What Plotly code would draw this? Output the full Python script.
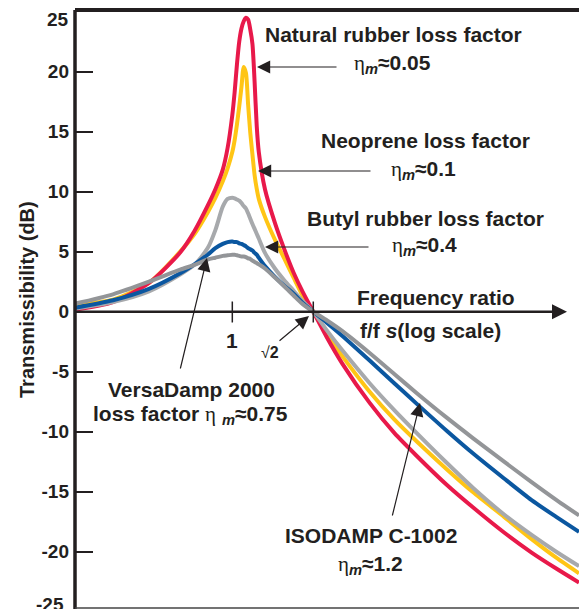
import plotly.graph_objects as go

# ---------------- data ----------------
freq_ratio = [0.51, 0.6, 0.7, 0.8, 0.85, 0.9, 0.93, 0.96, 0.98, 1.0,
              1.01, 1.02, 1.03, 1.04, 1.05, 1.06, 1.07, 1.08, 1.09, 1.10,
              1.11, 1.12, 1.15, 1.2, 1.25, 1.3, 1.35, 1.414,
              1.5, 1.6, 1.8, 2.0, 2.2, 2.5, 2.8, 3.2, 3.6, 4.0, 4.41]

natural_rubber = [0.17, 0.8, 2.4, 4.93, 6.7, 8.83, 10.2, 11.84, 13.64, 16.4,
                  18.3, 20.6, 22.5, 23.6, 24.2, 24.5, 24.35, 23.5, 22.3, 19.2,
                  15.5, 13.3, 10.2, 7.4, 5.17, 3.25, 1.7, 0.0,
                  -2.17, -4.3, -7.6, -10.1, -12.0, -14.4, -16.3, -18.4, -20.07, -21.4, -22.57]

neoprene = [0.6, 1.0, 2.4, 5.0, 6.45, 8.27, 9.48, 10.87, 11.95, 13.3,
            14.3, 15.6, 17.1, 18.75, 20.4, 19.9, 17.25, 14.9, 13.1, 11.4,
            10.25, 9.4, 7.9, 6.0, 4.4, 2.83, 1.37, 0.0,
            -1.87, -3.68, -6.67, -8.98, -10.8, -13.1, -15.03, -17.1, -18.95, -20.5, -21.8]

butyl_rubber = [0.25, 0.8, 1.7, 3.1, 3.9, 5.3, 6.8, 8.75, 9.4, 9.5,
                9.45, 9.35, 9.25, 9.05, 8.8, 8.6, 8.2, 7.75, 7.3, 6.9,
                6.5, 6.1, 4.9, 3.6, 2.6, 1.75, 0.9, 0.0,
                -1.58, -3.2, -5.96, -8.2, -10.1, -12.57, -14.67, -16.9, -18.6, -20.0, -21.2]

versadamp = [0.33, 0.95, 1.9, 3.2, 3.95, 4.75, 5.3, 5.65, 5.8, 5.85,
             5.8, 5.8, 5.7, 5.65, 5.55, 5.45, 5.3, 5.2, 5.1, 4.9,
             4.75, 4.5, 3.8, 2.9, 2.15, 1.5, 0.75, 0.0,
             -0.93, -2.0, -4.07, -5.96, -7.66, -9.9, -11.8, -13.9, -15.7, -17.1, -18.35]

isodamp = [0.67, 1.45, 2.5, 3.5, 3.9, 4.35, 4.5, 4.65, 4.7, 4.75,
           4.75, 4.7, 4.65, 4.6, 4.6, 4.55, 4.45, 4.4, 4.25, 4.15,
           4.05, 3.95, 3.6, 2.85, 2.1, 1.35, 0.65, 0.0,
           -0.73, -1.6, -3.44, -5.19, -6.77, -8.81, -10.53, -12.5, -14.2, -15.68, -16.98]

y_tick_values = [-20, -15, -10, -5, 0, 5, 10, 15, 20]
y_tick_labels = ["-20", "-15", "-10", "-5", "0", "5", "10", "15", "20"]
x_marks = [1.0, 1.4142]

# ---------------- styling ----------------
W, H = 579, 609
ML, MR, MT, MB = 75, 0, 10, 1
PW, PH = W - ML - MR, H - MT - MB
TXT = "#231F20"
FONT = "Liberation Sans, Arial, sans-serif"

def px(x):
    return (x - ML) / PW

def py(y):
    return (H - MB - y) / PH

fig = go.Figure()

series = [
    (neoprene, "#FFC515"),
    (natural_rubber, "#E8194A"),
    (butyl_rubber, "#A7A9AC"),
    (versadamp, "#0B57A0"),
    (isodamp, "#939598"),
]
for ys, col in series:
    fig.add_trace(go.Scatter(x=freq_ratio, y=ys, mode="lines",
                             line=dict(color=col, width=4, shape="spline", smoothing=0.7),
                             hoverinfo="skip", showlegend=False))

shapes = [
    dict(type="line", xref="paper", yref="paper", x0=0, x1=0, y0=-0.01, y1=1.0,
         line=dict(color=TXT, width=3.5)),
    dict(type="line", xref="paper", yref="paper", x0=0, x1=1.0, y0=1.0, y1=1.0,
         line=dict(color=TXT, width=4)),
    dict(type="line", xref="paper", yref="paper", x0=0, x1=1.0, y0=0.0, y1=0.0,
         line=dict(color="#444444", width=1.5)),
]
for xm in x_marks:
    shapes.append(dict(type="line", xref="x", yref="y", x0=xm, x1=xm, y0=0.85, y1=-0.9,
                       line=dict(color=TXT, width=1.5)))

ann = []

def label(text, x, y, size=21, xanchor="center", angle=0):
    ann.append(dict(text=text, x=px(x), y=py(y), xref="paper", yref="paper",
                    showarrow=False, xanchor=xanchor, yanchor="middle", textangle=angle,
                    font=dict(family=FONT, size=size, color=TXT, weight="bold")))

def arrow(hx, hy, tx, ty, width=1.2, size=2.2):
    ann.append(dict(text="", x=px(hx), y=py(hy), xref="paper", yref="paper",
                    ax=tx - hx, ay=ty - hy, showarrow=True, arrowhead=2,
                    arrowsize=size, arrowwidth=width, arrowcolor=TXT, standoff=0))

ETA = "<span style='font-family:Liberation Serif;font-weight:normal'>η</span>"

def eta(val):
    return ETA + "<sub><i>m</i></sub>≈" + val

# zero line with arrow
ann.append(dict(text="", x=px(567), y=0, xref="paper", yref="y",
                ax=-(567 - ML), ay=0, showarrow=True, arrowhead=2,
                arrowsize=1.2, arrowwidth=2.5, arrowcolor=TXT, standoff=0))

label("Natural rubber loss factor", 393, 35)
label(eta("0.05"), 392, 64)
label("Neoprene loss factor", 425, 141)
label(eta("0.1"), 423, 170)
label("Butyl rubber loss factor", 425, 218)
label(eta("0.4"), 424, 246)
label("Frequency ratio", 436, 297)
label("f/f <i>s</i>(log scale)", 430, 330)
label("VersaDamp 2000", 191, 389)
label("loss factor " + ETA + " <sub><i>m</i></sub>≈0.75", 190, 415)
label("ISODAMP C-1002", 371, 535)
label(eta("1.2"), 370, 565)
label("1", 232, 340, size=21)
label("<span style='font-weight:normal'>√</span>2", 270, 352, size=16)
label("25", 70.5, 19.5, size=19, xanchor="right")
label("-25", 66, 604, size=19, xanchor="right")
label("Transmissibility (dB)", 27, 300, size=20, angle=-90)

arrow(257, 67, 338, 67)
arrow(258, 171, 372, 171)
arrow(265, 247, 370, 247)
arrow(207, 258, 180, 370)
arrow(420, 403, 392, 517)
arrow(309, 316, 278, 342)

fig.update_layout(
    width=W, height=H,
    margin=dict(l=ML, r=MR, t=MT, b=MB, pad=0),
    paper_bgcolor="white", plot_bgcolor="white",
    showlegend=False, hovermode=False,
    shapes=shapes, annotations=ann,
    xaxis=dict(type="log", range=[-0.2924, 0.6444], showgrid=False, zeroline=False,
               showline=False, showticklabels=False, ticks="", automargin=False),
    yaxis=dict(range=[-24.69, 25.14], tickmode="array", tickvals=y_tick_values,
               ticktext=y_tick_labels, ticks="inside", ticklen=18, tickwidth=1.5,
               tickcolor=TXT, showgrid=False, zeroline=False, showline=False,
               ticklabelstandoff=5, automargin=False,
               tickfont=dict(family=FONT, size=19, color=TXT, weight="bold")),
)

fig.write_html("out.html", config={"displayModeBar": False},
               post_script="document.body.style.margin='0';")
